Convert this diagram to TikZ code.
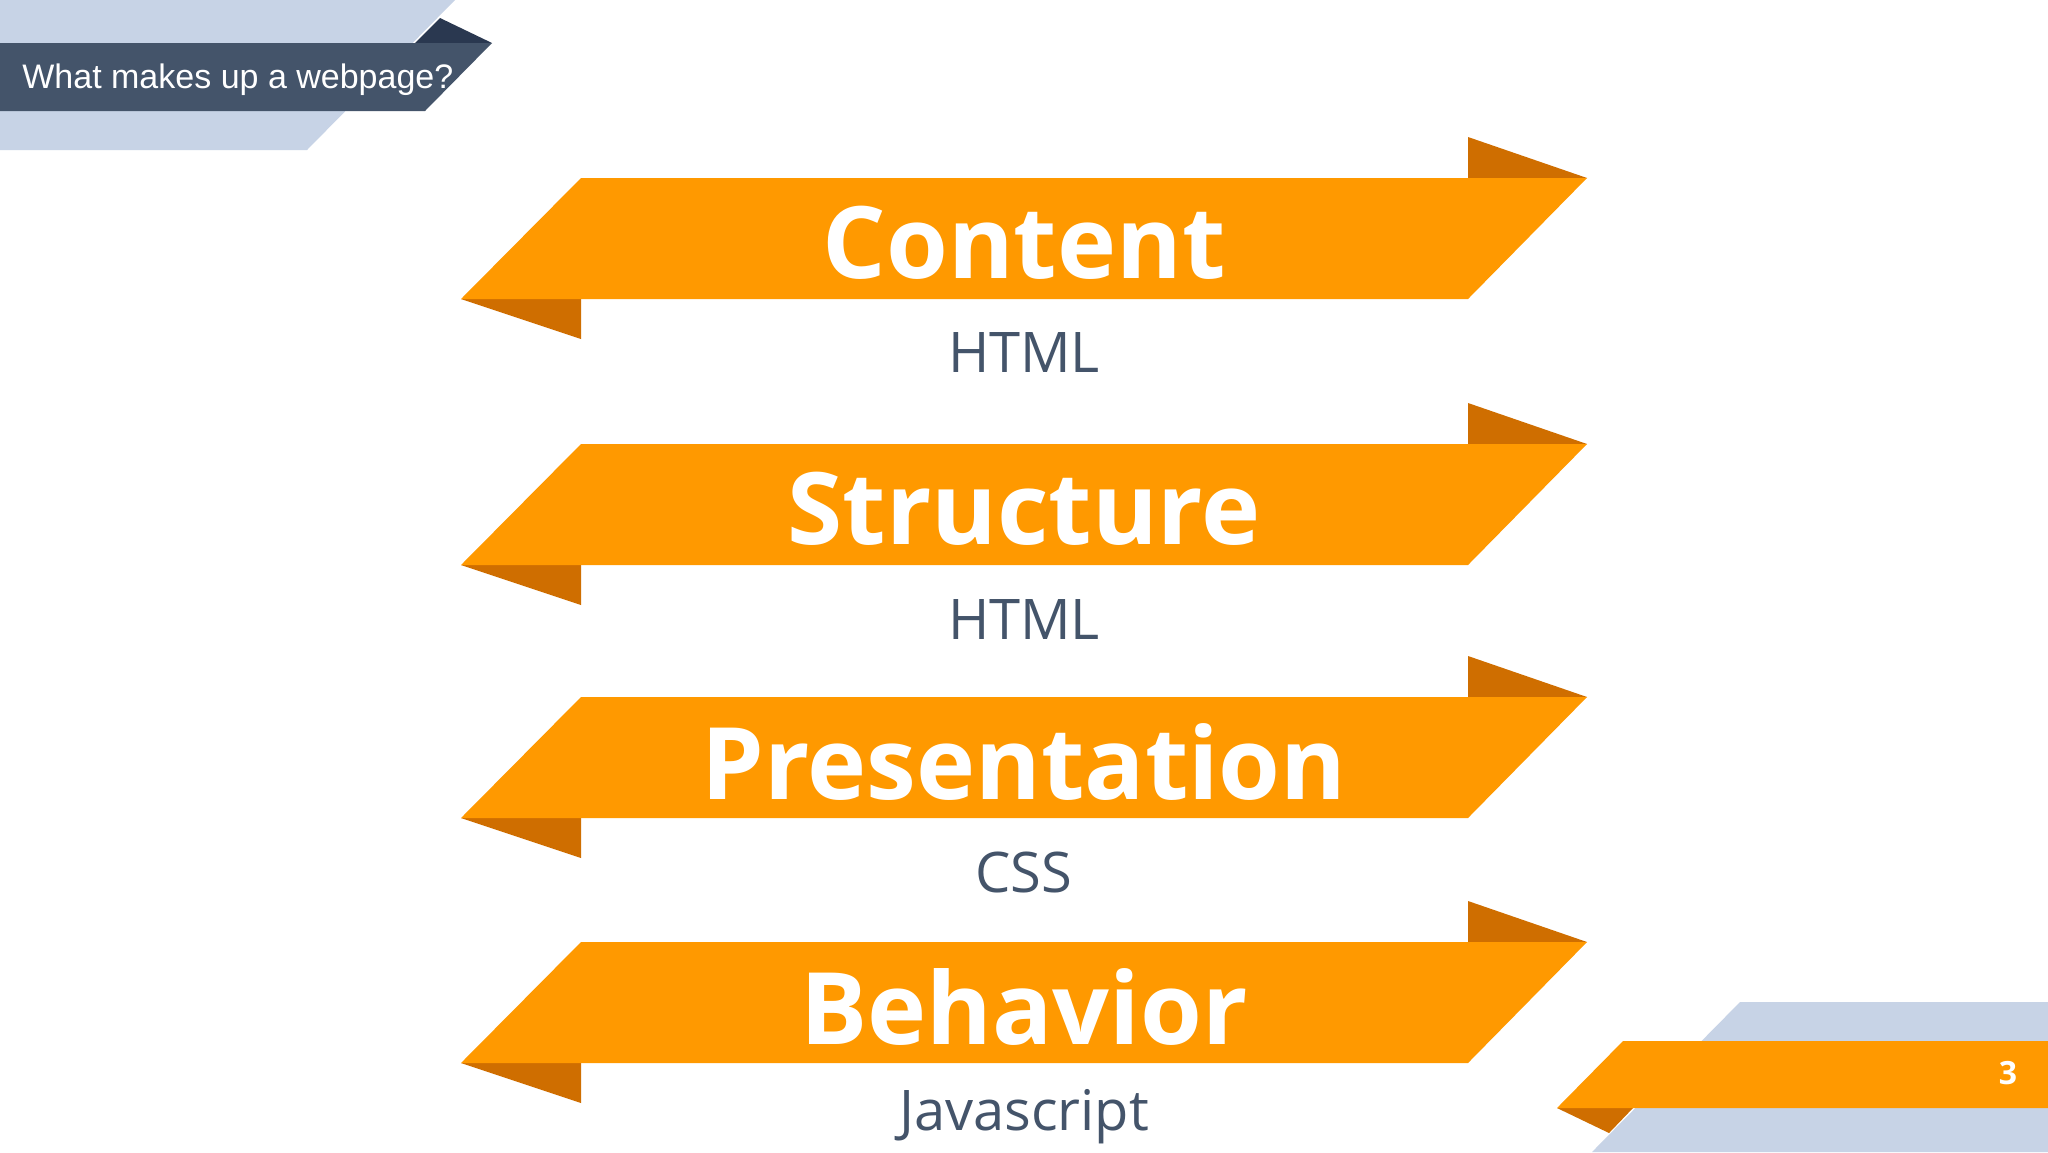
\documentclass[tikz,border=0pt]{standalone}
\usepackage{fontspec}
\setmainfont{Open Sans}
\newfontfamily\arialf{Liberation Sans}
\definecolor{ribbon}{HTML}{FF9900}
\definecolor{ribfold}{HTML}{CF6E00}
\definecolor{slate}{HTML}{44546A}
\definecolor{slatedk}{HTML}{2A3850}
\definecolor{paleblue}{HTML}{C7D3E6}
\begin{document}
\begin{tikzpicture}[x=0.5pt,y=-0.5pt,
  title/.style={font=\bfseries\fontsize{50}{56}\selectfont,text=white,inner sep=0},
  sub/.style={font=\fontsize{28}{32}\selectfont,text=slate,inner sep=0}]
\useasboundingbox (0,0) rectangle (2048,1152);
\fill[white] (0,0) rectangle (2048,1152);
% top-left header
\fill[paleblue] (0,0) -- (455,0) -- (307,150) -- (0,150) -- cycle;
\fill[slatedk] (415,43) -- (440,18) -- (492,43) -- cycle;
\fill[slate] (0,43) -- (492,43) -- (425,111) -- (0,111) -- cycle;
\node[anchor=base west,inner sep=0,text=white,font=\arialf\fontsize{17}{20}\selectfont] (hdr) at (22,88) {What makes up a webpage?};
% bottom-right
\fill[paleblue] (1740,1002) -- (2048,1002) -- (2048,1152) -- (1592,1152) -- cycle;
\fill[ribfold] (1557,1108) -- (1633,1108) -- (1609,1133) -- cycle;
\fill[ribbon] (1623,1041) -- (2048,1041) -- (2048,1108) -- (1557,1108) -- cycle;
\node[text=white,font=\bfseries\fontsize{16}{18}\selectfont,inner sep=0] (pg) at (2008,1073) {3};
% ribbons
\foreach \y/\t/\s/\n in {178/Content/HTML/a,444/Structure/HTML/b,697/Presentation/CSS/c,942/Behavior/Javascript/d}{
  \fill[ribfold] (461,\y+121) -- (581,\y+121) -- (581,\y+161) -- cycle;
  \fill[ribfold] (1468,\y) -- (1468,\y-41) -- (1587,\y) -- cycle;
  \fill[ribbon] (581,\y) -- (1587,\y) -- (1468,\y+121) -- (461,\y+121) -- cycle;
  \node[title] (t\n) at (1024,\y+65) {\t};
  \node[sub] (s\n) at (1024,\y+175) {\s};
}
\end{tikzpicture}
\end{document}
